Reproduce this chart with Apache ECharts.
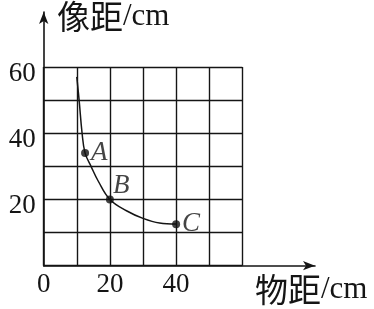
<!DOCTYPE html>
<html><head><meta charset="utf-8">
<script src="https://cdn.jsdelivr.net/npm/echarts@6/dist/echarts.min.js"></script>
<style>html,body{margin:0;padding:0;background:#fff}#c{width:374px;height:309px}</style>
</head><body><div id="c"></div>
<script>
// data
const objDist = [10, 10.7, 11.6, 12.5, 14.3, 16.5, 20, 25, 30, 35, 40];
const imgDist = [57, 50, 40, 34, 30, 25.5, 20, 16.6, 14.3, 12.9, 12.6];
const pointNames = ['A', 'B', 'C'];
const pointX = [12.5, 20, 40];
const pointY = [34, 20, 12.5];
const xTickLabels = ['0', '20', '40'];
const yTickLabels = ['20', '40', '60'];
const xTitle = ['物距', '/cm'];
const yTitle = ['像距', '/cm'];

const serif = '"Liberation Serif", "DejaVu Serif", serif';
const cjk = '"Noto Sans CJK SC", sans-serif';
const ink = '#151515';

const chart = echarts.init(document.getElementById('c'), null, {renderer: 'canvas'});
const lineData = objDist.map((x, i) => [x, imgDist[i]]);
const labelOffset = {A: [-1, 0], B: [-4, -14], C: [-1, 0]};
const ptData = pointX.map((x, i) => ({
  value: [x, pointY[i]], name: pointNames[i],
  label: {offset: labelOffset[pointNames[i]]}
}));

chart.setOption({
  animation: false,
  grid: [
    {left: 43.7, top: 67, width: 198.6, height: 198.7, containLabel: false},
    {left: 43.7, top: 12, width: 271.3, height: 253.7, containLabel: false}
  ],
  xAxis: [
    {type: 'value', gridIndex: 0, min: 0, max: 60, interval: 10,
     axisLine: {show: false}, axisTick: {show: false},
     splitLine: {show: true, lineStyle: {color: ink, width: 1.4}},
     axisLabel: {show: true, margin: 6, fontFamily: serif, fontSize: 27, color: ink,
       formatter: v => xTickLabels.includes(String(v)) ? String(v) : ''}},
    {type: 'value', gridIndex: 1, min: 0, max: 10, show: true,
     axisLine: {show: true, symbol: ['none', 'arrow'], symbolSize: [7, 12], lineStyle: {color: ink, width: 1.6}},
     axisTick: {show: false}, axisLabel: {show: false}, splitLine: {show: false}}
  ],
  yAxis: [
    {type: 'value', gridIndex: 0, min: 0, max: 60, interval: 10,
     axisLine: {show: false}, axisTick: {show: false},
     splitLine: {show: true, lineStyle: {color: ink, width: 1.4}},
     axisLabel: {show: true, margin: 8, color: ink,
       formatter: v => yTickLabels.includes(String(v)) ? '{v|' + v + '}' : '',
       rich: {v: {fontFamily: serif, fontSize: 27, color: ink, padding: [13, 0, 0, 0]}}}},
    {type: 'value', gridIndex: 1, min: 0, max: 10, show: true,
     axisLine: {show: true, symbol: ['none', 'arrow'], symbolSize: [7, 12], lineStyle: {color: ink, width: 1.6}},
     axisTick: {show: false}, axisLabel: {show: false}, splitLine: {show: false}}
  ],
  series: [
    {type: 'line', xAxisIndex: 0, yAxisIndex: 0, data: lineData, smooth: 0.4,
     showSymbol: false, lineStyle: {color: ink, width: 1.5}, z: 3},
    {type: 'scatter', xAxisIndex: 0, yAxisIndex: 0, data: ptData, symbolSize: 8,
     itemStyle: {color: '#111'}, z: 4,
     label: {show: true, formatter: p => p.name, fontFamily: serif, fontStyle: 'italic',
       fontSize: 27, color: ink, distance: 3, position: 'right'}}
  ],
  graphic: [
    {type: 'text', left: 57, top: 0, style: {
      text: '{a|' + yTitle[0] + '}{b|' + yTitle[1] + '}',
      rich: {a: {fontFamily: cjk, fontSize: 33, fill: ink}, b: {fontFamily: serif, fontSize: 31, fill: ink}}}},
    {type: 'text', left: 255, top: 273, style: {
      text: '{a|' + xTitle[0] + '}{b|' + xTitle[1] + '}',
      rich: {a: {fontFamily: cjk, fontSize: 33, fill: ink}, b: {fontFamily: serif, fontSize: 31, fill: ink}}}}
  ]
});
</script></body></html>
